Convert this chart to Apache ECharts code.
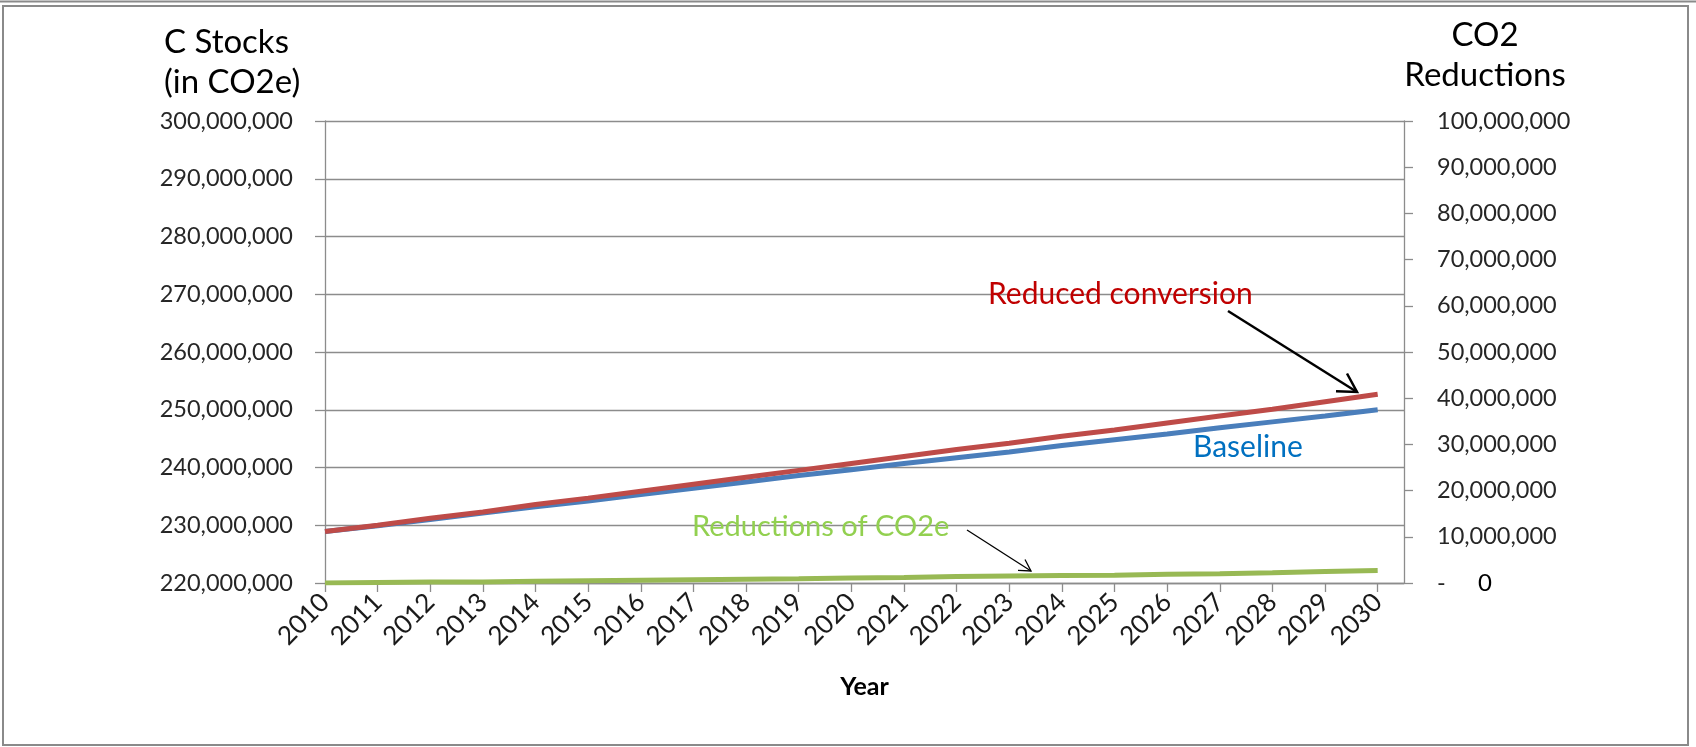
<!DOCTYPE html>
<html>
<head>
<meta charset="utf-8">
<script src="https://cdn.jsdelivr.net/npm/echarts@6/dist/echarts.min.js"></script>
<style>
html,body{margin:0;padding:0;background:#fff;}
#chart{width:1696px;height:747px;}
</style>
</head>
<body>
<div id="chart"></div>
<script>
// ---- data ----
var years = [2010,2011,2012,2013,2014,2015,2016,2017,2018,2019,2020,2021,2022,2023,2024,2025,2026,2027,2028,2029,2030];
var baseline = [228.9,229.9,231.0,232.1,233.2,234.2,235.3,236.4,237.5,238.6,239.6,240.7,241.7,242.7,243.8,244.8,245.8,246.9,247.9,248.9,250.0]; // millions CO2e
var reducedConversion = [228.9,230.0,231.2,232.3,233.6,234.7,235.9,237.1,238.3,239.5,240.7,241.9,243.1,244.2,245.4,246.5,247.7,248.9,250.1,251.4,252.7]; // millions
var reductions = [0.0,0.1,0.2,0.2,0.4,0.5,0.6,0.7,0.8,0.9,1.1,1.2,1.4,1.5,1.6,1.7,1.9,2.0,2.2,2.5,2.7]; // millions
var leftTicks = [220000000,300000000,10000000];   // min, max, interval
var rightTicks = [0,100000000,10000000];

function pairs(vals){ return years.map(function(y,i){ return [y, vals[i]*1e6]; }); }
function fmt(v){ return Math.round(v).toString().replace(/\B(?=(\d{3})+(?!\d))/g, ','); }

var FONT = 'Lato';
var chart = echarts.init(document.getElementById('chart'), null, {renderer:'canvas'});
var axisGray = '#8c8c8c';

chart.setOption({
  backgroundColor:'#ffffff',
  animation:false,
  grid:{left:325, right:292, top:121, bottom:164, containLabel:false},
  xAxis:{
    type:'value', min:years[0], max:years[years.length-1]+0.5, interval:1,
    name:'Year', nameLocation:'middle', nameGap:91,
    nameTextStyle:{fontFamily:FONT, fontWeight:'bold', fontSize:25, color:'#000'},
    axisLine:{show:true, onZero:false, lineStyle:{color:axisGray, width:1.3}},
    axisTick:{show:true, length:9, inside:false, customValues:years, lineStyle:{color:axisGray, width:1.3}},
    axisLabel:{customValues:years, rotate:45, margin:15, fontFamily:FONT, fontSize:26, color:'#1a1a1a',
      formatter:function(v){return String(v);}},
    splitLine:{show:false}
  },
  yAxis:[{
    type:'value', min:leftTicks[0], max:leftTicks[1], interval:leftTicks[2], position:'left',
    axisLine:{show:true, lineStyle:{color:axisGray, width:1.3}},
    axisTick:{show:true, length:10, lineStyle:{color:axisGray, width:1.3}},
    axisLabel:{margin:32, fontFamily:FONT, fontSize:23.5, color:'#262626', formatter:fmt},
    splitLine:{show:true, lineStyle:{color:axisGray, width:1.3}}
  },{
    type:'value', min:rightTicks[0], max:rightTicks[1], interval:rightTicks[2], position:'right',
    axisLine:{show:true, lineStyle:{color:axisGray, width:1.3}},
    axisTick:{show:true, length:9, lineStyle:{color:axisGray, width:1.3}},
    axisLabel:{margin:33, align:'left', fontFamily:FONT, fontSize:23.5, color:'#262626',
      formatter:function(v){ return v===0 ? '-' : fmt(v); }},
    splitLine:{show:false}
  }],
  series:[
    {name:'Reductions of CO2e', type:'line', yAxisIndex:1, data:pairs(reductions), symbol:'none',
      lineStyle:{color:'#98B954', width:5}, z:3},
    {name:'Baseline', type:'line', yAxisIndex:0, data:pairs(baseline), symbol:'none',
      lineStyle:{color:'#4A7EBB', width:5}, z:4},
    {name:'Reduced conversion', type:'line', yAxisIndex:0, data:pairs(reducedConversion), symbol:'none',
      lineStyle:{color:'#BE4B48', width:5}, z:5}
  ],
  graphic:[
    {type:'rect', shape:{x:3, y:6, width:1685, height:739}, style:{fill:'none', stroke:'#8a8a8a', lineWidth:2}, silent:true},
    {type:'line', shape:{x1:0, y1:1.5, x2:1696, y2:1.5}, style:{stroke:'#8a8a8a', lineWidth:2}, silent:true},
    {type:'text', x:164, y:42, style:{text:'C Stocks', font:'33px Lato', fill:'#000', textVerticalAlign:'middle'}},
    {type:'text', x:164, y:82, style:{text:'(in CO2e)', font:'33px Lato', fill:'#000', textVerticalAlign:'middle'}},
    {type:'text', x:1485, y:35, style:{text:'CO2', font:'33px Lato', fill:'#000', textAlign:'center', textVerticalAlign:'middle'}},
    {type:'text', x:1485, y:75, style:{text:'Reductions', font:'33px Lato', fill:'#000', textAlign:'center', textVerticalAlign:'middle'}},
    {type:'text', x:1478, y:583, style:{text:'0', font:'24px Lato', fill:'#000', textAlign:'left', textVerticalAlign:'middle'}},
    {type:'text', x:988, y:294, z:10, style:{text:'Reduced conversion', font:'30px Lato', fill:'#C00000', textAlign:'left', textVerticalAlign:'middle'}},
    {type:'text', x:1193, y:447, z:10, style:{text:'Baseline', font:'30px Lato', fill:'#0070C0', textAlign:'left', textVerticalAlign:'middle'}},
    {type:'text', x:692, y:527, z:10, style:{text:'Reductions of CO2e', font:'29px Lato', fill:'#92D050', textAlign:'left', textVerticalAlign:'middle'}},
    {type:'polyline', z:10, shape:{points:[[1228,311],[1357,392]]}, style:{stroke:'#000', lineWidth:2.5, fill:null}},
    {type:'polyline', z:10, shape:{points:[[1347,373.5],[1357,392],[1336,391.2]]}, style:{stroke:'#000', lineWidth:2.5, fill:null}},
    {type:'polyline', z:10, shape:{points:[[967,530],[1031,571]]}, style:{stroke:'#000', lineWidth:1.3, fill:null}},
    {type:'polyline', z:10, shape:{points:[[1025,559.5],[1031,571],[1018,570.4]]}, style:{stroke:'#000', lineWidth:1.3, fill:null}}
  ]
});
</script>
</body>
</html>
